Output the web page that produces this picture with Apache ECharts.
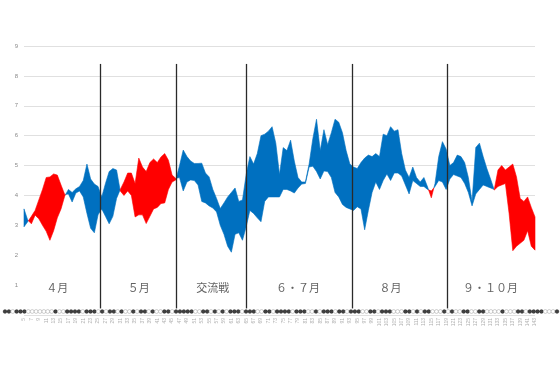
<!DOCTYPE html>
<html><head><meta charset="utf-8">
<script src="https://cdn.jsdelivr.net/npm/echarts@6/dist/echarts.min.js"></script>
<style>html,body{margin:0;padding:0;background:#fff}#c{width:560px;height:373px}</style>
</head><body><div id="c"></div>
<script>
// game numbers of the first plotted point (moving average starts at game 5)
const firstGame = 5;
// line A: upper edge where band is blue; line B: upper edge where band is red
const lineA = [3.55,3.18,3.05,3.34,3.22,3.0,2.8,2.5,2.82,3.25,3.55,3.98,4.2,4.1,4.22,4.3,4.5,5.05,4.55,4.38,
4.3,3.95,4.4,4.8,4.9,4.85,4.15,4.0,4.15,4.0,3.28,3.35,3.35,3.06,3.3,3.55,3.6,3.73,3.75,4.2,
4.45,4.52,5.0,5.52,5.3,5.15,5.07,5.07,5.08,4.75,4.62,4.2,3.9,3.56,3.75,3.95,4.1,4.25,3.8,3.85,
4.7,5.3,5.05,5.4,6.0,6.05,6.15,6.3,5.75,4.7,5.6,5.5,5.85,5.15,4.6,4.45,4.45,5.05,5.9,6.55,
5.5,6.2,5.7,6.1,6.55,6.45,6.1,5.5,5.05,4.95,4.9,5.1,5.25,5.35,5.3,5.4,5.3,6.05,6.0,6.3,
6.15,6.2,5.4,4.85,4.6,4.95,4.6,4.45,4.6,4.28,3.92,4.4,5.3,5.8,5.55,5.0,5.1,5.35,5.3,5.1,
4.6,3.8,5.6,5.75,5.3,4.9,4.55,4.18,4.3,4.35,4.4,3.4,2.15,2.3,2.4,2.5,2.82,2.3,2.17];
const lineB = [2.95,3.12,3.3,3.5,3.85,4.2,4.6,4.62,4.72,4.68,4.35,4.03,4.05,3.78,4.08,4.15,3.95,3.4,2.9,2.75,
3.35,3.55,3.3,3.05,3.3,3.9,4.2,4.45,4.75,4.75,4.4,5.25,4.95,4.8,5.1,5.22,5.1,5.29,5.4,5.18,
4.68,4.57,4.6,4.15,4.45,4.52,4.5,4.35,3.8,3.75,3.65,3.58,3.45,3.0,2.7,2.3,2.1,2.7,2.75,2.5,
2.95,3.5,3.4,3.25,3.12,3.8,3.95,3.95,3.95,3.95,4.2,4.2,4.15,4.08,4.25,4.38,4.4,4.95,4.98,4.8,
4.55,4.82,4.8,4.6,4.1,3.95,3.7,3.6,3.55,3.5,3.62,3.55,2.85,3.5,4.1,4.45,4.2,4.5,4.72,4.5,
4.75,4.75,4.65,4.35,4.05,4.5,4.4,4.3,4.3,4.2,4.15,4.3,4.5,4.45,4.2,4.55,4.7,4.65,4.6,4.4,
4.1,3.65,4.05,4.2,4.35,4.3,4.25,4.2,4.85,5.0,4.85,4.95,5.05,4.62,3.9,3.8,3.95,3.6,3.28];
// win (W) / loss (L) sequence for all games
const results = ("WWLWWWLLLLLLLWLLWWWWLWWWLWLWWLWLLWLWWLWLLWWLWWWWWLLWWLWLWLWWWLWWWLLWWLWW" +
                 "WWLWWWLLWLWWWLWWLWWWLLWWLWWWLLLWWLWLWWLLLWLWLLWWLLWWLLLLWLLLWWLWWWWLLLW").split("");
const monthNames = ["４月","５月","交流戦","６・７月","８月","９・１０月"];
const monthPos = [9, 31, 51, 74, 99, 126];
const monthLabelValue = 0.9;
const separatorsAt = [20.5, 41, 59.9, 88.6, 114.2];
const separatorTop = 8.4, separatorBottom = 0.22;

const BLUE = "#0070C0", RED = "#FF0000";
const n = lineA.length;

function renderBand(params, api) {
  const pa = [], pb = [];
  for (let i = 0; i < n; i++) { pa.push(api.coord([i, lineA[i]])); pb.push(api.coord([i, lineB[i]])); }
  const runs = []; const minEdge = [];
  let sign = lineA[0] >= lineB[0];
  let cur = {blue: sign, top: [], bot: []};
  for (let i = 0; i < n; i++) {
    const s = lineA[i] >= lineB[i];
    if (i > 0 && s !== sign) {
      const d0 = lineA[i-1] - lineB[i-1], d1 = lineA[i] - lineB[i];
      const t = d0 / (d0 - d1);
      const c = [pa[i-1][0] + t*(pa[i][0]-pa[i-1][0]), pa[i-1][1] + t*(pa[i][1]-pa[i-1][1])];
      cur.top.push(c); cur.bot.push(c); runs.push(cur);
      cur = {blue: s, top: [c], bot: [c]};
      minEdge.push(c); sign = s;
    }
    const up = s ? pa[i] : pb[i], lo = s ? pb[i] : pa[i];
    cur.top.push(up); cur.bot.push(lo); minEdge.push(lo);
  }
  runs.push(cur);
  const children = [];
  const bl = api.coord([0, 0]), br = api.coord([n-1, 0]);
  children.push({type: 'polygon', shape: {points: minEdge.concat([br, bl])}, style: {fill: '#fff'}});
  runs.forEach(r => {
    const col = r.blue ? BLUE : RED;
    children.push({type: 'polygon', shape: {points: r.top.concat(r.bot.slice().reverse())},
      style: {fill: col, stroke: col, lineWidth: 0.6}});
  });
  return {type: 'group', children};
}

const chart = echarts.init(document.getElementById('c'), null, {renderer: 'canvas'});
chart.setOption({
  animation: false,
  backgroundColor: '#fff',
  grid: [
    {left: 24, right: 25, top: 46, bottom: 58},
    {left: 5, right: 3, top: 306, height: 11}
  ],
  xAxis: [
    {type: 'value', gridIndex: 0, min: 0, max: n - 1, interval: 2,
     axisLine: {show: false}, axisTick: {show: false}, splitLine: {show: false},
     axisLabel: {rotate: 90, fontSize: 5, color: '#b0b0b0', margin: 3, formatter: v => String(v + firstGame)}},
    {type: 'category', gridIndex: 1, data: results.map((r, i) => i), boundaryGap: false, show: false}
  ],
  yAxis: [
    {type: 'value', gridIndex: 0, min: 0, max: 9, interval: 1,
     axisLine: {show: false}, axisTick: {show: false},
     splitLine: {lineStyle: {color: '#e0e0e0', width: 1}},
     axisLabel: {fontSize: 6, color: '#8a8a8a', margin: 6, formatter: v => v === 0 ? '' : String(v)}},
    {type: 'value', gridIndex: 1, min: 0, max: 1, show: false}
  ],
  series: [
    {type: 'custom', xAxisIndex: 0, yAxisIndex: 0, data: [[0, 0]], renderItem: renderBand, z: 2, silent: true},
    {type: 'line', xAxisIndex: 0, yAxisIndex: 0, data: [], z: 5, silent: true,
     markLine: {silent: true, symbol: 'none', label: {show: false},
       lineStyle: {color: '#2a2a2a', width: 1.3, type: 'solid'},
       data: separatorsAt.map(x => [{coord: [x, separatorTop]}, {coord: [x, separatorBottom]}])}},
    {type: 'scatter', xAxisIndex: 0, yAxisIndex: 0, z: 6, symbolSize: 0, silent: true,
     data: monthNames.map((m, k) => ({name: m, value: [monthPos[k], monthLabelValue]})),
     label: {show: true, position: 'inside', formatter: p => p.name, fontSize: 11, color: '#3a3a3a',
       fontFamily: '"Noto Sans CJK JP", sans-serif'}},
    {type: 'scatter', xAxisIndex: 1, yAxisIndex: 1, z: 6, silent: true, symbolSize: 3.9,
     data: results.map((r, i) => ({value: [i, 0.5],
       itemStyle: r === 'W' ? {color: '#111', borderColor: '#111', borderWidth: 0.3}
                            : {color: '#fff', borderColor: '#999', borderWidth: 0.6}}))}
  ]
});
</script></body></html>
